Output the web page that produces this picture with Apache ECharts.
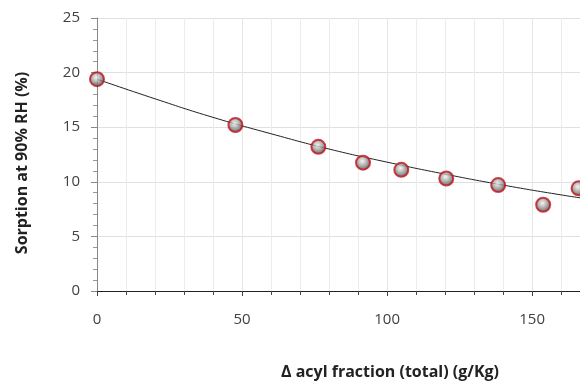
<!DOCTYPE html>
<html>
<head>
<meta charset="utf-8">
<script src="https://cdn.jsdelivr.net/npm/echarts@6/dist/echarts.min.js"></script>
<style>
html, body { margin: 0; padding: 0; background: #fff; }
#chart { width: 580px; height: 382px; }
</style>
</head>
<body>
<div id="chart"></div>
<script>
// measured points
var acylX = [0, 47.7, 76.3, 91.7, 104.9, 120.4, 138.3, 153.8, 166];
var sorptionY = [19.4, 15.2, 13.2, 11.75, 11.1, 10.3, 9.7, 7.9, 9.4];
// trend line
var trendX = [0, 20, 40, 60, 80, 100, 120, 140, 160, 170];
var trendY = [19.4, 17.6, 15.9, 14.4, 13.0, 11.8, 10.7, 9.7, 8.8, 8.4];

var points = acylX.map(function (x, i) { return [x, sorptionY[i]]; });
var trend = trendX.map(function (x, i) { return [x, trendY[i]]; });

var font = '"Open Sans", "DejaVu Sans", sans-serif';
var chart = echarts.init(document.getElementById('chart'));
chart.setOption({
    backgroundColor: '#fff',
    animation: false,
    grid: { left: 97, right: 0, top: 18, bottom: 91 },
    xAxis: {
        type: 'value', min: 0, max: 166.5, interval: 50,
        axisLine: { show: true, onZero: false, lineStyle: { color: '#222', width: 1.2 } },
        axisTick: { show: true, length: 5, lineStyle: { color: '#444' } },
        minorTick: { show: true, splitNumber: 5, length: 4, lineStyle: { color: '#444' } },
        splitLine: { show: true, lineStyle: { color: '#e6e6e6' } },
        minorSplitLine: { show: true, lineStyle: { color: '#ececec' } },
        axisLabel: { margin: 21, fontSize: 15, color: '#404040', fontFamily: font,
            showMaxLabel: false }
    },
    yAxis: {
        type: 'value', min: 0, max: 25, interval: 5,
        axisLine: { show: true, lineStyle: { color: '#888' } },
        axisTick: { show: true, length: 6, lineStyle: { color: '#888' } },
        minorTick: { show: true, splitNumber: 5, length: 4, lineStyle: { color: '#999' } },
        splitLine: { show: true, lineStyle: { color: '#e0e0e0' } },
        axisLabel: { margin: 17, fontSize: 15, color: '#404040', fontFamily: font },
        name: 'Sorption at 90% RH (%)',
        nameLocation: 'middle', nameRotate: 90, nameGap: 67,
        nameTextStyle: { fontSize: 16, fontWeight: 'bold', color: '#222', fontFamily: font,
            padding: [0, 17, 0, 0] }
    },
    graphic: [{
        type: 'text', left: 281, top: 364,
        style: { text: 'Δ acyl fraction (total) (g/Kg)', font: 'bold 16px ' + font, fill: '#222' }
    }],
    series: [{
        type: 'line', data: trend, smooth: true, showSymbol: false, symbol: 'none',
        lineStyle: { color: '#222', width: 1 }, z: 2
    }, {
        type: 'scatter', data: points, symbolSize: 14, z: 3,
        itemStyle: {
            color: {
                type: 'radial', x: 0.45, y: 0.4, r: 0.6,
                colorStops: [{ offset: 0, color: '#f2f2f2' }, { offset: 0.5, color: '#9a9a9a' }, { offset: 1, color: '#3a3a3a' }]
            },
            borderColor: '#c0141c', borderWidth: 2
        }
    }]
});
</script>
</body>
</html>
